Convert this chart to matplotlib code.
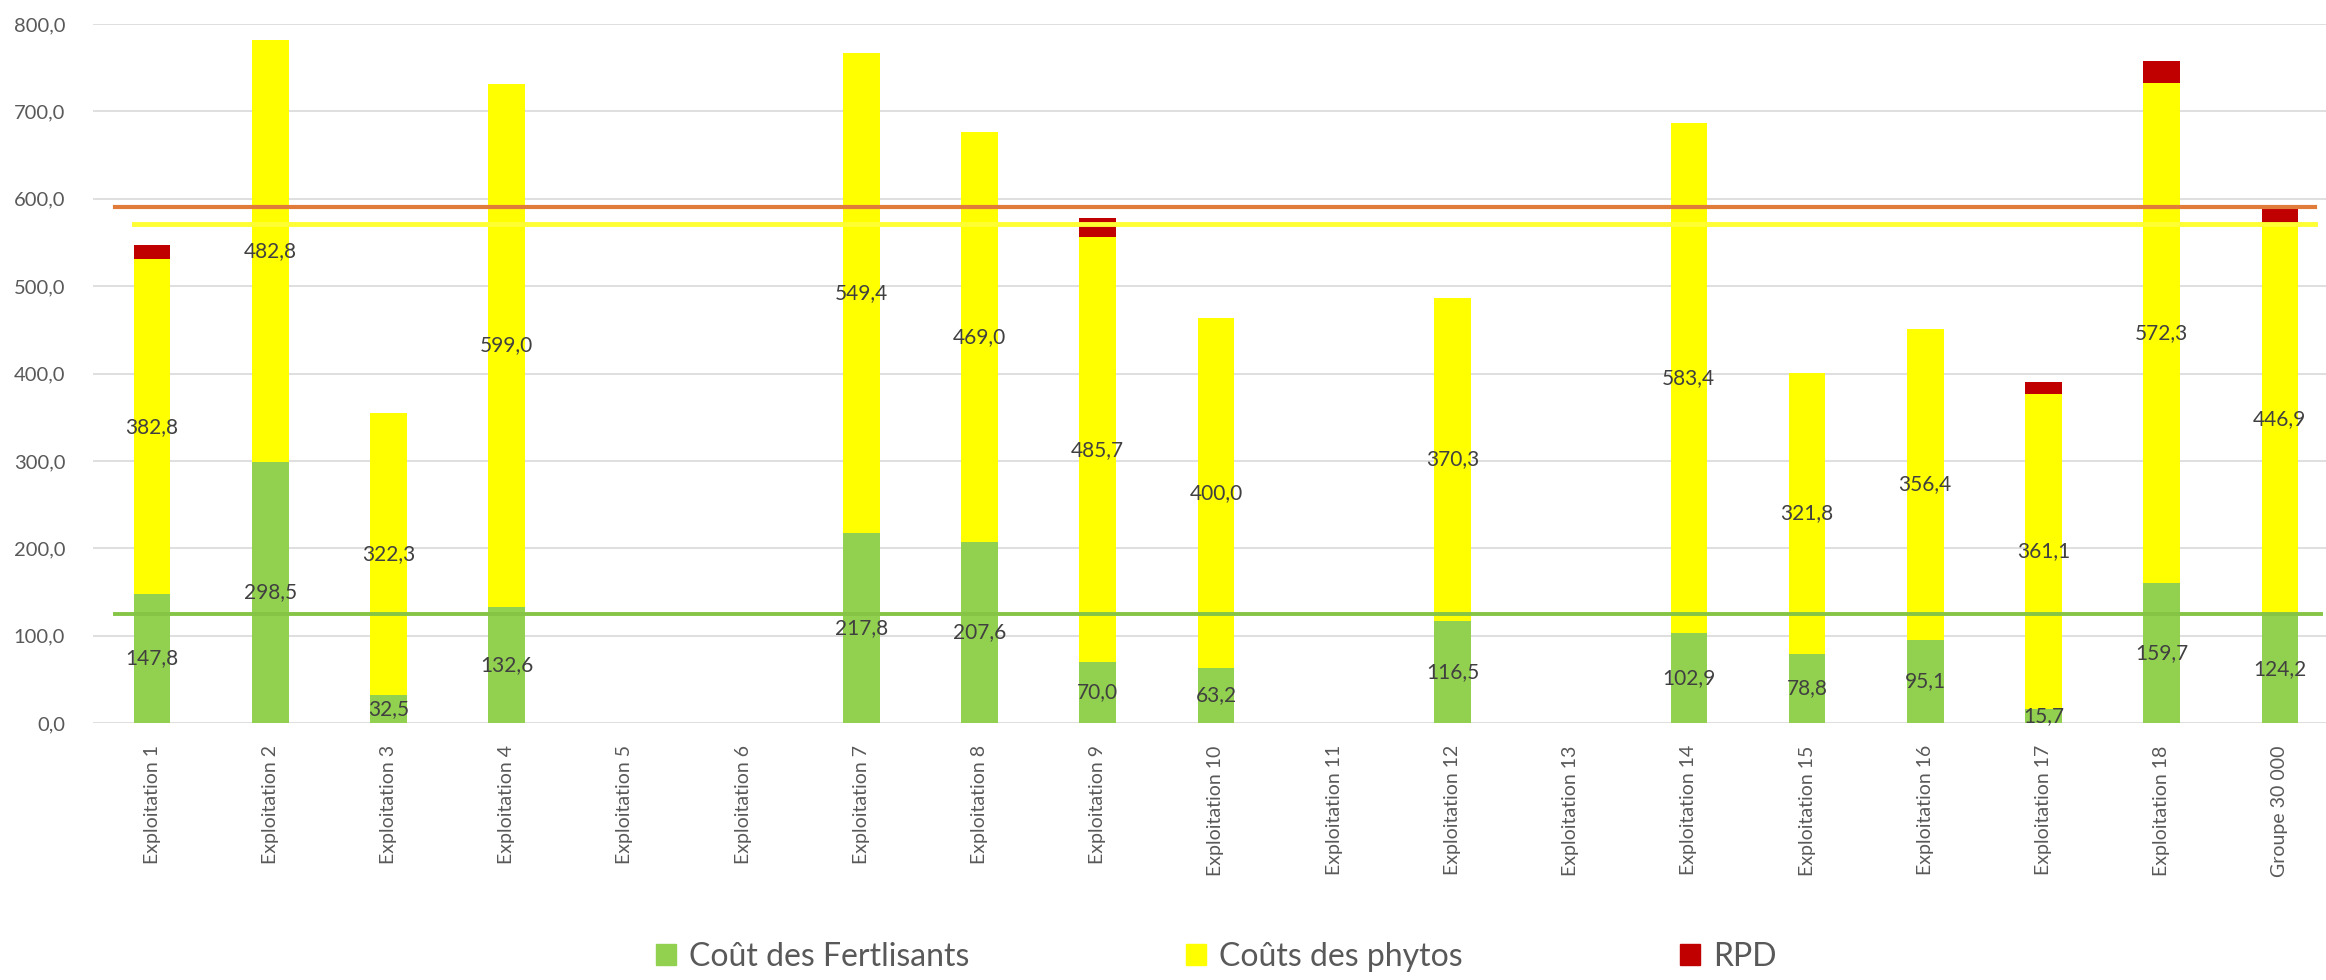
import numpy as np
import matplotlib
matplotlib.use("Agg")
from matplotlib import pyplot as plt
from matplotlib.patches import Patch

plt.rcParams['font.family'] = ['Lato', 'DejaVu Sans']

categories = ["Exploitation 1", "Exploitation 2", "Exploitation 3", "Exploitation 4",
              "Exploitation 5", "Exploitation 6", "Exploitation 7", "Exploitation 8",
              "Exploitation 9", "Exploitation 10", "Exploitation 11", "Exploitation 12",
              "Exploitation 13", "Exploitation 14", "Exploitation 15", "Exploitation 16",
              "Exploitation 17", "Exploitation 18", "Groupe 30 000"]
fertilisants = [147.8, 298.5, 32.5, 132.6, 0, 0, 217.8, 207.6, 70.0, 63.2, 0, 116.5,
                0, 102.9, 78.8, 95.1, 15.7, 159.7, 124.2]
phytos = [382.8, 482.8, 322.3, 599.0, 0, 0, 549.4, 469.0, 485.7, 400.0, 0, 370.3,
          0, 583.4, 321.8, 356.4, 361.1, 572.3, 446.9]
rpd = [16, 0, 0, 0, 0, 0, 0, 0, 22, 0, 0, 0, 0, 0, 0, 0, 13, 26, 20]
yticks = [0, 100, 200, 300, 400, 500, 600, 700, 800]

GREEN = "#92D050"
YELLOW = "#FFFF00"
RED = "#C00000"
LABEL = "#404040"
AXIS_TXT = "#595959"


def fr(v):
    return f"{v:.1f}".replace(".", ",")


fig = plt.figure(figsize=(23.26, 9.8), dpi=100)
ax = fig.add_axes([93 / 2326, 257 / 980, 2246 / 2326, 699 / 980])

x = np.arange(len(categories))
fert = np.array(fertilisants)
phy = np.array(phytos)
red = np.array(rpd)
w = 0.31

ax.bar(x, fert, w, color=GREEN, zorder=2)
ax.bar(x, phy, w, bottom=fert, color=YELLOW, zorder=2)
ax.bar(x, red, w, bottom=fert + phy, color=RED, zorder=2)

# lignes du groupe de reference
g = len(categories) - 1
ax.plot([-0.31, 18.3], [fert[g] + phy[g] + red[g]] * 2, color="#E07B39", lw=3, zorder=3)
ax.plot([-0.15, 18.3], [fert[g] + phy[g]] * 2, color="#FFFF33", lw=3.5, zorder=3)
ax.plot([-0.31, 18.35], [fert[g]] * 2, color="#86C445", lw=2.8, zorder=3)

for i in range(len(categories)):
    if fert[i] > 0:
        ax.text(x[i], fert[i] / 2, fr(fert[i]), ha="center", va="center",
                fontsize=15, color=LABEL, zorder=4)
    if phy[i] > 0:
        ax.text(x[i], fert[i] + phy[i] / 2, fr(phy[i]), ha="center", va="center",
                fontsize=15, color=LABEL, zorder=4)

ax.set_xlim(-0.5, len(categories) - 0.5)
ax.set_ylim(0, 800)
ax.set_yticks(yticks)
ax.set_yticklabels([fr(v) for v in yticks], fontsize=14.5, color=AXIS_TXT)
ax.set_xticks(x)
ax.set_xticklabels(categories, rotation=90, fontsize=14, color=AXIS_TXT)
ax.tick_params(axis="both", length=0)
ax.tick_params(axis="y", pad=20)
ax.tick_params(axis="x", pad=16)
ax.grid(axis="y", color="#D9D9D9", lw=1.2, zorder=0)
for s in ax.spines.values():
    s.set_visible(False)

handles = [Patch(color=GREEN), Patch(color=YELLOW), Patch(color=RED)]
labels = ["Coût des Fertlisants", "Coûts des phytos", "RPD"]
fig.legend(handles, labels, loc="center", bbox_to_anchor=(1216 / 2326, 1 - 957 / 980),
           ncol=3, frameon=False, fontsize=23, handlelength=0.63, handleheight=0.63,
           handletextpad=0.4, columnspacing=6.8, labelcolor=AXIS_TXT)

fig.savefig("out.png", dpi=100)
